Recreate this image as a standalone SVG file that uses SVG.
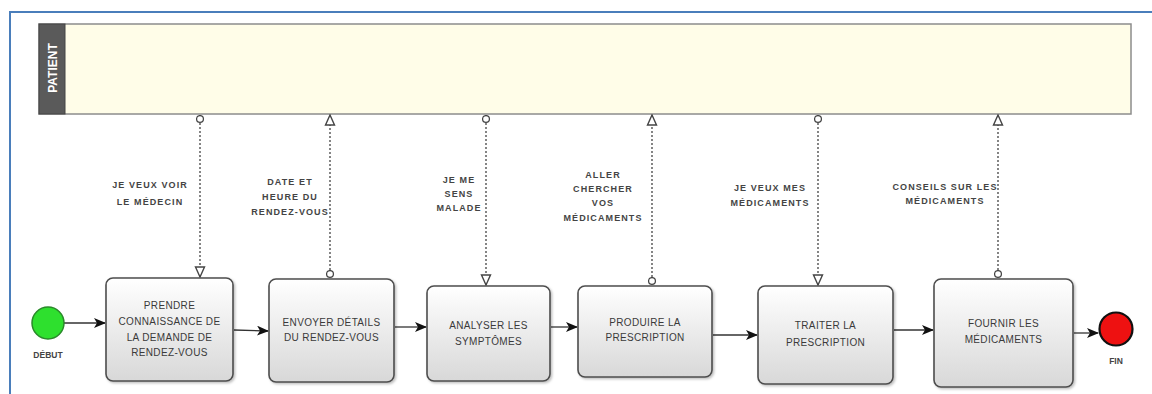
<svg xmlns="http://www.w3.org/2000/svg" width="1152" height="394" viewBox="0 0 1152 394">
  <defs>
    <linearGradient id="taskFill" x1="0" y1="0" x2="0" y2="1">
      <stop offset="0" stop-color="#ffffff"/>
      <stop offset="1" stop-color="#d8d8d8"/>
    </linearGradient>
    <filter id="shadow" x="-10%" y="-10%" width="125%" height="125%">
      <feDropShadow dx="1.5" dy="1.5" stdDeviation="1" flood-color="#000" flood-opacity="0.25"/>
    </filter>
    <!-- sequence flow arrowhead -->
    <marker id="seq" viewBox="0 0 12 10" refX="11" refY="5" markerWidth="12" markerHeight="10" markerUnits="userSpaceOnUse" orient="auto">
      <path d="M0,0 L12,5 L0,10 L3,5 Z" fill="#111"/>
    </marker>
    <!-- message flow ends -->
    <marker id="msgStart" viewBox="0 0 10 10" refX="5" refY="5" markerWidth="9" markerHeight="9" markerUnits="userSpaceOnUse" orient="auto">
      <circle cx="5" cy="5" r="3.8" fill="#fff" stroke="#444" stroke-width="1.4"/>
    </marker>
    <marker id="msgEnd" viewBox="0 0 12 12" refX="11" refY="6" markerWidth="12" markerHeight="12" markerUnits="userSpaceOnUse" orient="auto">
      <path d="M1,1.5 L11,6 L1,10.5 Z" fill="#fff" stroke="#444" stroke-width="1.4"/>
    </marker>
  </defs>
  <style>
    .frame { fill: none; stroke: #4a7ebb; stroke-width: 2; }
    .lane { fill: #fffde8; stroke: #8c8c8c; stroke-width: 1.5; }
    .laneHead { fill: #5a5a5a; stroke: #444; stroke-width: 1; }
    .laneTitle { font-family: "Liberation Sans", Arial, sans-serif; font-size: 12px; font-weight: bold; fill: #ffffff; }
    .task { fill: url(#taskFill); stroke: #4d4d4d; stroke-width: 1.6; filter: url(#shadow); }
    .taskText { font-family: "Liberation Sans", Arial, sans-serif; font-size: 10px; letter-spacing: 0.35px; fill: #3a3a3a; text-anchor: middle; dominant-baseline: middle; }
    .msgLabel { font-family: "Liberation Sans", Arial, sans-serif; font-size: 9px; font-weight: bold; letter-spacing: 1.1px; fill: #444; text-anchor: middle; dominant-baseline: middle; }
    .eventLabel { font-family: "Liberation Sans", Arial, sans-serif; font-size: 8.5px; font-weight: bold; fill: #444; text-anchor: middle; dominant-baseline: middle; }
    .seqFlow { fill: none; stroke: #333; stroke-width: 1.3; marker-end: url(#seq); }
    .msgFlow { fill: none; stroke: #444; stroke-width: 1.3; stroke-dasharray: 2 2; marker-start: url(#msgStart); marker-end: url(#msgEnd); }
  </style>

  <!-- page border -->
  <path class="frame" d="M10,394 L10,12 L1152,12"/>

  <!-- pool -->
  <g id="pool-patient">
    <rect class="lane" x="39" y="24" width="1092" height="90"/>
    <rect class="laneHead" x="39" y="24" width="26" height="90"/>
    <text class="laneTitle" transform="translate(57,68) rotate(-90)" text-anchor="middle">PATIENT</text>
  </g>

  <!-- connectors -->
  <g id="connectors">
    <!-- sequence flows -->
    <path class="seqFlow" d="M64,323 L105,323"/>
    <path class="seqFlow" d="M234,330 L268,331"/>
    <path class="seqFlow" d="M395,327 L426,327"/>
    <path class="seqFlow" d="M551,327 L577,327"/>
    <path class="seqFlow" d="M713,335 L757,335"/>
    <path class="seqFlow" d="M894,330 L933,330"/>
    <path class="seqFlow" d="M1074,333 L1098,333"/>
    <!-- message flows -->
    <path class="msgFlow" d="M200,119 L200,277"/>
    <path class="msgFlow" d="M330,274 L330,115"/>
    <path class="msgFlow" d="M486,119 L486,285"/>
    <path class="msgFlow" d="M652,281 L652,115"/>
    <path class="msgFlow" d="M818,119 L818,285"/>
    <path class="msgFlow" d="M998,274 L998,115"/>
    <!-- message labels -->
    <text class="msgLabel" x="150" y="186">JE VEUX VOIR</text>
    <text class="msgLabel" x="150" y="203">LE MÉDECIN</text>
    <text class="msgLabel" x="290" y="183">DATE ET</text>
    <text class="msgLabel" x="290" y="198">HEURE DU</text>
    <text class="msgLabel" x="290" y="213">RENDEZ-VOUS</text>
    <text class="msgLabel" x="459" y="181">JE ME</text>
    <text class="msgLabel" x="459" y="195">SENS</text>
    <text class="msgLabel" x="459" y="209">MALADE</text>
    <text class="msgLabel" x="603" y="176">ALLER</text>
    <text class="msgLabel" x="603" y="190">CHERCHER</text>
    <text class="msgLabel" x="603" y="204">VOS</text>
    <text class="msgLabel" x="603" y="219">MÉDICAMENTS</text>
    <text class="msgLabel" x="770" y="189">JE VEUX MES</text>
    <text class="msgLabel" x="770" y="204">MÉDICAMENTS</text>
    <text class="msgLabel" x="945" y="188">CONSEILS SUR LES</text>
    <text class="msgLabel" x="945" y="202">MÉDICAMENTS</text>
  </g>

  <!-- start event -->
  <g id="start">
    <circle cx="48" cy="323" r="16" fill="#2ee02e" stroke="#2a8a2a" stroke-width="1.5"/>
    <text class="eventLabel" x="48" y="356">DÉBUT</text>
  </g>

  <!-- tasks -->
  <g id="task-prendre">
    <rect class="task" x="106" y="278" width="127" height="103" rx="7"/>
    <text class="taskText" x="169.5" y="306">PRENDRE</text>
    <text class="taskText" x="169.5" y="322">CONNAISSANCE DE</text>
    <text class="taskText" x="169.5" y="338">LA DEMANDE DE</text>
    <text class="taskText" x="169.5" y="353">RENDEZ-VOUS</text>
  </g>
  <g id="task-envoyer">
    <rect class="task" x="269" y="279" width="125" height="103" rx="7"/>
    <text class="taskText" x="331.5" y="323">ENVOYER DÉTAILS</text>
    <text class="taskText" x="331.5" y="338">DU RENDEZ-VOUS</text>
  </g>
  <g id="task-analyser">
    <rect class="task" x="427" y="286" width="123" height="95" rx="7"/>
    <text class="taskText" x="488.5" y="326">ANALYSER LES</text>
    <text class="taskText" x="488.5" y="342">SYMPTÔMES</text>
  </g>
  <g id="task-produire">
    <rect class="task" x="578" y="286" width="134" height="91" rx="7"/>
    <text class="taskText" x="645" y="323">PRODUIRE LA</text>
    <text class="taskText" x="645" y="338">PRESCRIPTION</text>
  </g>
  <g id="task-traiter">
    <rect class="task" x="758" y="286" width="135" height="98" rx="7"/>
    <text class="taskText" x="825.5" y="326">TRAITER LA</text>
    <text class="taskText" x="825.5" y="343">PRESCRIPTION</text>
  </g>
  <g id="task-fournir">
    <rect class="task" x="934" y="279" width="139" height="108" rx="7"/>
    <text class="taskText" x="1003.5" y="324">FOURNIR LES</text>
    <text class="taskText" x="1003.5" y="340">MÉDICAMENTS</text>
  </g>

  <!-- end event -->
  <g id="end">
    <circle cx="1116" cy="329" r="16.5" fill="#ee1111" stroke="#111" stroke-width="2.2"/>
    <text class="eventLabel" x="1116" y="362">FIN</text>
  </g>
</svg>
